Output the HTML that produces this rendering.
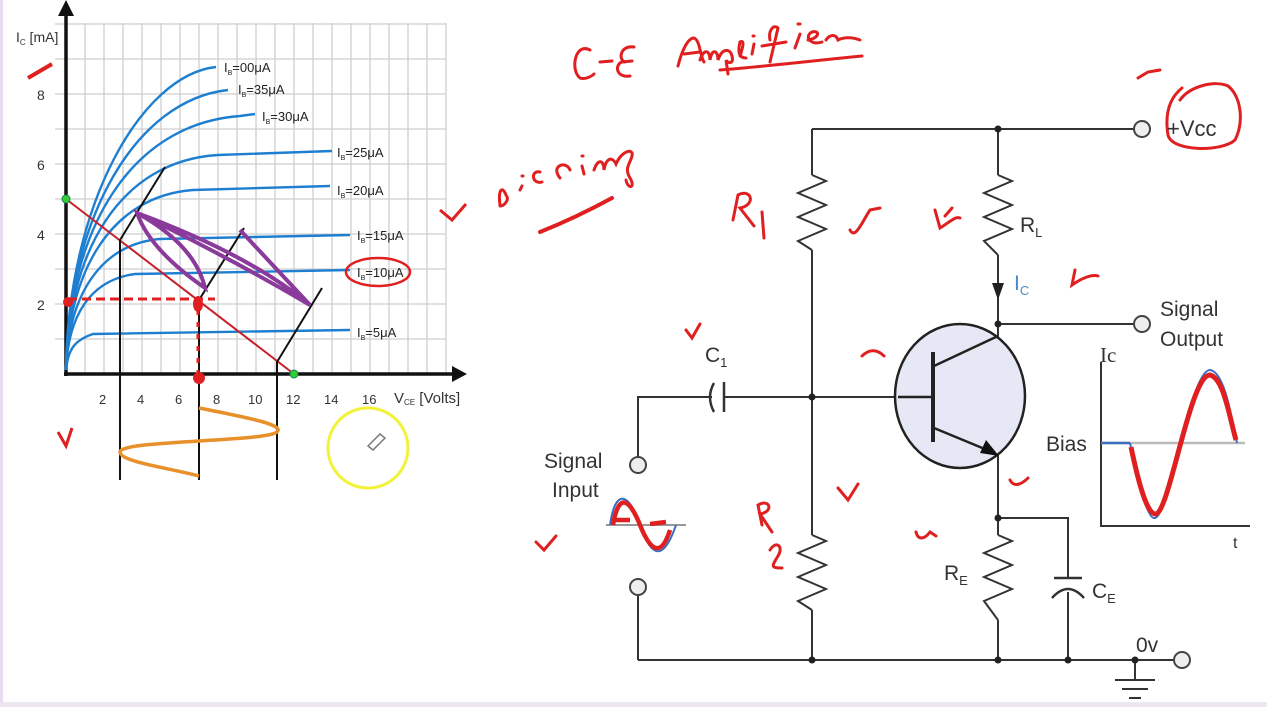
<!DOCTYPE html>
<html><head><meta charset="utf-8"><style>
html,body{margin:0;padding:0;background:#fff;}
svg{display:block;font-family:"Liberation Sans",sans-serif;}
</style></head><body>
<svg width="1267" height="707" viewBox="0 0 1267 707" xmlns="http://www.w3.org/2000/svg">
<rect x="0" y="0" width="1267" height="707" fill="#fff"/>
<rect x="0" y="0" width="3" height="707" fill="#e8dcf0"/>
<rect x="0" y="702" width="1267" height="5" fill="#ece6f0"/>

<!-- grid -->
<g stroke="#cfcfcf" stroke-width="1.3">
<line x1="85" y1="23" x2="85" y2="374"/><line x1="104" y1="23" x2="104" y2="374"/><line x1="123" y1="23" x2="123" y2="374"/><line x1="142" y1="23" x2="142" y2="374"/><line x1="161" y1="23" x2="161" y2="374"/><line x1="180" y1="23" x2="180" y2="374"/><line x1="199" y1="23" x2="199" y2="374"/><line x1="218" y1="23" x2="218" y2="374"/><line x1="237" y1="23" x2="237" y2="374"/><line x1="256" y1="23" x2="256" y2="374"/><line x1="275" y1="23" x2="275" y2="374"/><line x1="294" y1="23" x2="294" y2="374"/><line x1="313" y1="23" x2="313" y2="374"/><line x1="332" y1="23" x2="332" y2="374"/><line x1="351" y1="23" x2="351" y2="374"/><line x1="370" y1="23" x2="370" y2="374"/><line x1="389" y1="23" x2="389" y2="374"/><line x1="408" y1="23" x2="408" y2="374"/><line x1="427" y1="23" x2="427" y2="374"/><line x1="446" y1="23" x2="446" y2="374"/>
<line x1="55" y1="24" x2="446" y2="24"/><line x1="55" y1="59" x2="446" y2="59"/><line x1="55" y1="94" x2="446" y2="94"/><line x1="55" y1="129" x2="446" y2="129"/><line x1="55" y1="164" x2="446" y2="164"/><line x1="55" y1="199" x2="446" y2="199"/><line x1="55" y1="234" x2="446" y2="234"/><line x1="55" y1="269" x2="446" y2="269"/><line x1="55" y1="304" x2="446" y2="304"/><line x1="55" y1="339" x2="446" y2="339"/>
</g>
<!-- axes -->
<g stroke="#111" stroke-width="3.5">
<line x1="66" y1="8" x2="66" y2="376"/><line x1="64" y1="374" x2="458" y2="374"/>
</g>
<polygon points="66,0 58,16 74,16" fill="#111"/>
<polygon points="467,374 452,366 452,382" fill="#111"/>
<g font-size="14" fill="#333">
<text x="16" y="42">I<tspan font-size="8" dy="3">C</tspan><tspan dy="-3"> [mA]</tspan></text>
<text x="37" y="100">8</text><text x="37" y="170">6</text><text x="37" y="240">4</text><text x="37" y="310">2</text>
<text x="99" y="404" font-size="13">2</text><text x="137" y="404" font-size="13">4</text><text x="175" y="404" font-size="13">6</text><text x="213" y="404" font-size="13">8</text><text x="248" y="404" font-size="13">10</text><text x="286" y="404" font-size="13">12</text><text x="324" y="404" font-size="13">14</text><text x="362" y="404" font-size="13">16</text>
<text x="394" y="403" font-size="15">V<tspan font-size="8" dy="2">CE</tspan><tspan dy="-2"> [Volts]</tspan></text>
</g>
<!-- curves -->
<g fill="none" stroke="#1e7fd0" stroke-width="2.4">
<path d="M66,370 C68,349 75,340 93,334 L350,330"/>
<path d="M66,370 C68,316 90,280 135,274 L350,270"/>
<path d="M66,370 C68,297 99,245 159,239 L350,235"/>
<path d="M66,370 C68,270 112,196 193,190 L330,186"/>
<path d="M66,370 C68,251 120,161 218,155 L332,151"/>
<path d="M66,370 C68,230 130,124 240,116 L255,114"/>
<path d="M66,370 C68,217 136,100 228,90"/>
<path d="M66,370 C68,203 142,75 216,67"/>
</g>
<g font-size="13" fill="#222">
<text x="224" y="72">I<tspan font-size="7" dy="3">B</tspan><tspan dy="-3">=00μA</tspan></text>
<text x="238" y="94">I<tspan font-size="7" dy="3">B</tspan><tspan dy="-3">=35μA</tspan></text>
<text x="262" y="121">I<tspan font-size="7" dy="3">B</tspan><tspan dy="-3">=30μA</tspan></text>
<text x="337" y="157">I<tspan font-size="7" dy="3">B</tspan><tspan dy="-3">=25μA</tspan></text>
<text x="337" y="195">I<tspan font-size="7" dy="3">B</tspan><tspan dy="-3">=20μA</tspan></text>
<text x="357" y="240">I<tspan font-size="7" dy="3">B</tspan><tspan dy="-3">=15μA</tspan></text>
<text x="357" y="277">I<tspan font-size="7" dy="3">B</tspan><tspan dy="-3">=10μA</tspan></text>
<text x="357" y="337">I<tspan font-size="7" dy="3">B</tspan><tspan dy="-3">=5μA</tspan></text>
</g>
<!-- load line -->
<line x1="66" y1="199" x2="294" y2="374" stroke="#c8202a" stroke-width="2"/>
<circle cx="66" cy="199" r="4" fill="#3c3" stroke="#185" stroke-width="1"/>
<circle cx="294" cy="374" r="4" fill="#3c3" stroke="#185" stroke-width="1"/>
<!-- black projection lines -->
<g stroke="#111" stroke-width="2" fill="none">
<path d="M120,480 L120,240 L165,167"/>
<path d="M199,480 L199,300 L244,228"/>
<path d="M277,480 L277,362 L322,288"/>
</g>
<!-- purple -->
<g stroke="#8a3a9a" stroke-width="4" fill="none">
<path d="M137,213 Q195,245 205,288 Q150,250 137,213 Z"/>
<path d="M137,213 Q250,255 310,305 Q225,255 137,213 Z"/>
<line x1="240" y1="230" x2="310" y2="305"/>
</g>
<!-- orange sine -->
<path d="M199,408 C250,418 285,425 277,432 C265,442 120,440 120,452 C120,462 170,468 199,476" fill="none" stroke="#e8902a" stroke-width="3.5"/>
<!-- red annotations graph -->
<line x1="68" y1="299" x2="215" y2="299" stroke="#e02020" stroke-width="3" stroke-dasharray="9,5"/>
<circle cx="68" cy="302" r="5" fill="#e02020"/>
<ellipse cx="198" cy="304" rx="5" ry="8" fill="#e02020"/>
<line x1="198" y1="310" x2="198" y2="372" stroke="#e02020" stroke-width="3" stroke-dasharray="5,7"/>
<circle cx="199" cy="378" r="6" fill="#e02020"/>
<path d="M28,78 L52,64" stroke="#e02020" stroke-width="4"/>
<path d="M58,432 L66,446 L72,428" stroke="#e02020" stroke-width="3" fill="none"/>
<path d="M440,210 L452,220 L466,204" stroke="#e02020" stroke-width="3" fill="none"/>
<ellipse cx="378" cy="272" rx="32" ry="14" fill="none" stroke="#e02020" stroke-width="2.5"/>
<circle cx="368" cy="448" r="40" fill="none" stroke="#f2f23a" stroke-width="3"/>
<path d="M368,446 L380,434 L385,438 L373,450 Z" fill="none" stroke="#777" stroke-width="1.5"/>

<!-- handwriting -->
<g fill="none" stroke="#e02020" stroke-width="3" stroke-linecap="round">
<path d="M590,50 C575,42 570,70 580,78 C585,80 592,76 594,74"/>
<path d="M600,62 L612,61"/>
<path d="M634,47 C620,45 618,60 625,62 M622,62 C615,64 615,78 630,76 M622,62 L632,61"/>
<path d="M678,66 C682,50 688,38 694,38 C700,40 700,56 704,62 M684,54 L700,52"/>
<path d="M700,60 C704,48 710,50 710,60 C712,48 718,50 718,60 C722,48 730,48 732,56 C734,64 728,64 726,60 L728,74"/>
<path d="M740,56 C744,44 744,40 740,42 C738,50 738,58 746,58 M752,54 L754,44 M753,36 L754,36"/>
<path d="M770,40 C768,30 774,24 778,28 L770,62 M762,46 L786,42 M795,48 L800,34 M798,24 L800,24"/>
<path d="M808,40 C820,38 820,30 812,32 C804,36 810,46 822,42 M826,40 C830,34 836,34 838,40 C842,38 850,36 860,40"/>
<path d="M720,70 C770,66 820,60 862,56"/>
<path d="M500,205 C498,190 502,185 506,195 C510,200 504,206 500,206 M520,190 L522,186 M522,176 L523,176 M540,172 C530,170 532,185 542,182 M560,178 C550,166 566,160 570,170 M584,174 L582,166 M582,156 L583,156 M594,170 C598,158 604,160 604,170 C606,158 612,156 616,164 C622,150 634,148 632,156 C630,164 624,168 630,178 C636,188 628,190 626,180"/>
<path d="M540,232 C565,222 590,210 612,198" stroke-width="4"/>
<path d="M733,220 L738,195 C752,188 756,205 740,208 L754,226 M762,212 L764,238"/>
<path d="M850,230 C855,240 862,222 870,210 L880,208" />
<path d="M935,210 L940,228 C950,222 955,216 960,218 M945,216 L952,208"/>
<path d="M1075,270 L1072,285 C1082,278 1092,274 1098,276"/>
<path d="M686,330 L692,338 L700,324"/>
<path d="M862,356 C870,348 878,350 884,356"/>
<path d="M838,488 L848,500 L858,484"/>
<path d="M762,525 L758,505 C770,498 774,512 760,514 L772,532 M770,550 C776,540 784,546 778,556 C772,566 770,568 782,568"/>
<path d="M916,532 C918,540 924,540 930,532 L936,536"/>
<path d="M1010,480 C1014,488 1022,484 1028,478"/>
<path d="M536,542 L544,550 L556,536"/>
<path d="M1138,78 L1148,72 L1160,70"/>
<path d="M1182,88 C1172,96 1164,110 1168,135 C1172,152 1222,152 1235,140 C1245,120 1240,95 1228,86 C1215,80 1190,86 1180,100"/>
</g>

<!-- circuit -->
<g stroke="#333" stroke-width="2" fill="none">
<path d="M812,129 L1134,129"/>
<path d="M812,129 L812,175 M812,250 L812,535 M812,610 L812,660"/>
<path d="M812,175 L826,181 L798,193 L826,205 L798,217 L826,229 L798,241 L812,250"/>
<path d="M812,535 L826,541 L798,553 L826,565 L798,577 L826,589 L798,601 L812,610"/>
<path d="M998,129 L998,175 M998,255 L998,338"/>
<path d="M998,175 L1012,181 L984,193 L1012,205 L984,217 L1012,229 L984,241 L998,255"/>
<path d="M998,324 L1134,324"/>
<path d="M638,660 L1174,660"/>
<path d="M998,455 L998,535 M998,620 L998,660"/>
<path d="M998,535 L1012,541 L984,553 L1012,565 L984,577 L1012,589 L984,601 L998,620"/>
<path d="M998,518 L1068,518 L1068,578 M1068,592 L1068,660"/>
<path d="M1054,578 L1082,578" stroke-width="2.5"/>
<path d="M1052,598 Q1068,580 1084,598" stroke-width="2.5"/>
<path d="M638,457 L638,397 L712,397 M724,397 L932,397"/>
<path d="M714,383 Q706,397 714,412" stroke-width="2.5"/>
<path d="M724,382 L724,412" stroke-width="2.5"/>
<path d="M638,595 L638,660"/>
<path d="M1135,660 L1135,680 M1115,680 L1155,680 M1122,689 L1148,689 M1129,698 L1141,698"/>
</g>
<polygon points="998,300 992,283 1004,283" fill="#222"/>
<ellipse cx="960" cy="396" rx="65" ry="72" fill="#e6e9f5" stroke="#222" stroke-width="2.5"/>
<g stroke="#222" stroke-width="2.5">
<line x1="898" y1="397" x2="933" y2="397"/>
<line x1="933" y1="352" x2="933" y2="442" stroke-width="4"/>
<line x1="934" y1="366" x2="998" y2="336"/>
<line x1="934" y1="428" x2="992" y2="452"/>
</g>
<polygon points="999,456 980,453 986,440" fill="#111"/>
<g fill="#222">
<circle cx="998" cy="129" r="3.5"/><circle cx="998" cy="324" r="3.5"/><circle cx="812" cy="397" r="3.5"/><circle cx="998" cy="518" r="3.5"/>
<circle cx="812" cy="660" r="3.5"/><circle cx="998" cy="660" r="3.5"/><circle cx="1068" cy="660" r="3.5"/><circle cx="1135" cy="660" r="3.5"/>
</g>
<g fill="#eee" stroke="#444" stroke-width="2">
<circle cx="1142" cy="129" r="8"/><circle cx="1142" cy="324" r="8"/><circle cx="1182" cy="660" r="8"/>
<circle cx="638" cy="465" r="8"/><circle cx="638" cy="587" r="8"/>
</g>
<!-- output graph -->
<g stroke="#333" stroke-width="2" fill="none">
<path d="M1101,362 L1101,526 L1250,526"/>
</g>
<line x1="1101" y1="443" x2="1245" y2="443" stroke="#bbb" stroke-width="2.5"/>
<line x1="1101" y1="443" x2="1130" y2="443" stroke="#3a6fc0" stroke-width="2.5"/>
<path d="M1130,443 C1140,490 1148,520 1155,518 C1170,515 1190,370 1210,370 C1225,372 1232,420 1237,443" fill="none" stroke="#3a6fc0" stroke-width="2"/>
<path d="M1131,447 C1140,490 1148,515 1156,514 C1170,510 1190,375 1210,375 C1224,378 1230,420 1236,440" fill="none" stroke="#e02020" stroke-width="5"/>
<!-- input wave -->
<line x1="606" y1="525" x2="686" y2="525" stroke="#999" stroke-width="2"/>
<path d="M610,525 C615,490 628,490 640,525 C652,560 664,560 676,525" fill="none" stroke="#3a6fc0" stroke-width="2"/>
<path d="M613,525 C618,495 628,495 640,525 C652,555 662,555 670,530 M614,520 L630,520 M650,524 L666,522" fill="none" stroke="#e02020" stroke-width="4.5"/>
<g font-size="21" fill="#333">
<text x="1167" y="136" font-size="22">+Vcc</text>
<text x="1160" y="316">Signal</text><text x="1160" y="346">Output</text>
<text x="1100" y="362" font-family="Liberation Serif,serif">Ic</text>
<text x="1046" y="451">Bias</text>
<text x="1233" y="548" font-size="16">t</text>
<text x="544" y="468">Signal</text><text x="552" y="497">Input</text>
<text x="705" y="362">C<tspan font-size="13" dy="5">1</tspan></text>
<text x="1020" y="232">R<tspan font-size="13" dy="5">L</tspan></text>
<text x="944" y="580">R<tspan font-size="13" dy="5">E</tspan></text>
<text x="1092" y="598">C<tspan font-size="13" dy="5">E</tspan></text>
<text x="1136" y="652">0v</text>
<text x="1014" y="290" fill="#4a88c8">I<tspan font-size="13" dy="5">C</tspan></text>
</g>
</svg>
</body></html>
